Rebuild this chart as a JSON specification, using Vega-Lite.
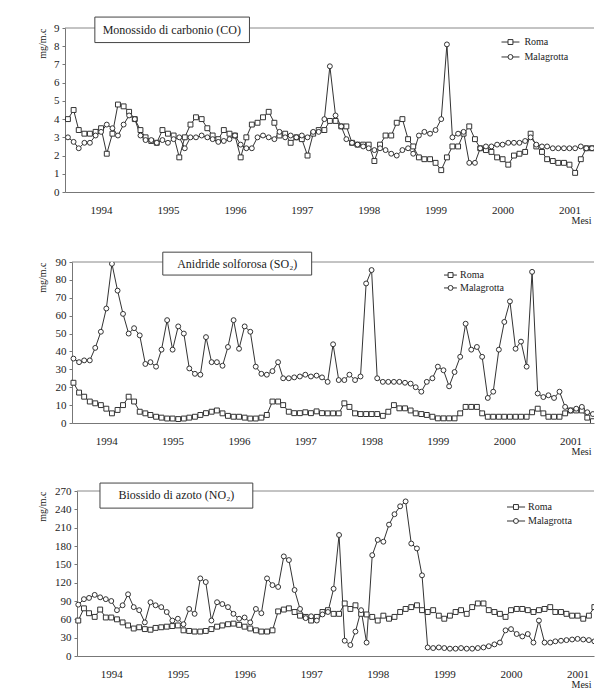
{
  "$schema": "https://vega.github.io/schema/vega-lite/v6.json",
  "background": "white",
  "padding": {"top": 16, "left": 37, "right": 0, "bottom": 0},
  "columns": 1,
  "spacing": 26,
  "config": {
    "font": "Liberation Serif",
    "view": {"stroke": null},
    "axis": {"labelFont": "Liberation Serif", "titleFont": "Liberation Serif", "labelColor": "#222", "titleColor": "#222", "titleFontWeight": "normal", "domainColor": "#777", "tickColor": "#777", "grid": false, "labelOverlap": false}
  },
  "resolve": {"scale": {"x": "independent", "y": "independent", "shape": "independent"}},
  "datasets": {
    "co": [
      {"mese":"1994-01","stazione":"Roma","v":4.0},{"mese":"1994-02","stazione":"Roma","v":4.5},{"mese":"1994-03","stazione":"Roma","v":3.4},{"mese":"1994-04","stazione":"Roma","v":3.2},{"mese":"1994-05","stazione":"Roma","v":3.2},{"mese":"1994-06","stazione":"Roma","v":3.3},{"mese":"1994-07","stazione":"Roma","v":3.5},{"mese":"1994-08","stazione":"Roma","v":2.1},{"mese":"1994-09","stazione":"Roma","v":3.2},{"mese":"1994-10","stazione":"Roma","v":4.8},{"mese":"1994-11","stazione":"Roma","v":4.7},{"mese":"1994-12","stazione":"Roma","v":4.4},
      {"mese":"1995-01","stazione":"Roma","v":4.0},{"mese":"1995-02","stazione":"Roma","v":3.4},{"mese":"1995-03","stazione":"Roma","v":3.0},{"mese":"1995-04","stazione":"Roma","v":2.8},{"mese":"1995-05","stazione":"Roma","v":2.7},{"mese":"1995-06","stazione":"Roma","v":3.4},{"mese":"1995-07","stazione":"Roma","v":3.2},{"mese":"1995-08","stazione":"Roma","v":3.1},{"mese":"1995-09","stazione":"Roma","v":1.9},{"mese":"1995-10","stazione":"Roma","v":3.0},{"mese":"1995-11","stazione":"Roma","v":3.7},{"mese":"1995-12","stazione":"Roma","v":4.1},
      {"mese":"1996-01","stazione":"Roma","v":4.0},{"mese":"1996-02","stazione":"Roma","v":3.5},{"mese":"1996-03","stazione":"Roma","v":3.1},{"mese":"1996-04","stazione":"Roma","v":2.9},{"mese":"1996-05","stazione":"Roma","v":3.4},{"mese":"1996-06","stazione":"Roma","v":3.2},{"mese":"1996-07","stazione":"Roma","v":3.1},{"mese":"1996-08","stazione":"Roma","v":1.9},{"mese":"1996-09","stazione":"Roma","v":3.0},{"mese":"1996-10","stazione":"Roma","v":3.7},{"mese":"1996-11","stazione":"Roma","v":3.8},{"mese":"1996-12","stazione":"Roma","v":4.1},
      {"mese":"1997-01","stazione":"Roma","v":4.4},{"mese":"1997-02","stazione":"Roma","v":3.8},{"mese":"1997-03","stazione":"Roma","v":3.1},{"mese":"1997-04","stazione":"Roma","v":3.2},{"mese":"1997-05","stazione":"Roma","v":2.7},{"mese":"1997-06","stazione":"Roma","v":3.0},{"mese":"1997-07","stazione":"Roma","v":2.9},{"mese":"1997-08","stazione":"Roma","v":2.0},{"mese":"1997-09","stazione":"Roma","v":3.2},{"mese":"1997-10","stazione":"Roma","v":3.4},{"mese":"1997-11","stazione":"Roma","v":3.4},{"mese":"1997-12","stazione":"Roma","v":3.9},
      {"mese":"1998-01","stazione":"Roma","v":3.9},{"mese":"1998-02","stazione":"Roma","v":3.6},{"mese":"1998-03","stazione":"Roma","v":3.6},{"mese":"1998-04","stazione":"Roma","v":2.7},{"mese":"1998-05","stazione":"Roma","v":2.6},{"mese":"1998-06","stazione":"Roma","v":2.6},{"mese":"1998-07","stazione":"Roma","v":2.6},{"mese":"1998-08","stazione":"Roma","v":1.7},{"mese":"1998-09","stazione":"Roma","v":2.6},{"mese":"1998-10","stazione":"Roma","v":3.1},{"mese":"1998-11","stazione":"Roma","v":3.1},{"mese":"1998-12","stazione":"Roma","v":3.8},
      {"mese":"1999-01","stazione":"Roma","v":4.0},{"mese":"1999-02","stazione":"Roma","v":2.9},{"mese":"1999-03","stazione":"Roma","v":2.5},{"mese":"1999-04","stazione":"Roma","v":1.9},{"mese":"1999-05","stazione":"Roma","v":1.8},{"mese":"1999-06","stazione":"Roma","v":1.8},{"mese":"1999-07","stazione":"Roma","v":1.6},{"mese":"1999-08","stazione":"Roma","v":1.2},{"mese":"1999-09","stazione":"Roma","v":1.9},{"mese":"1999-10","stazione":"Roma","v":2.5},{"mese":"1999-11","stazione":"Roma","v":2.5},{"mese":"1999-12","stazione":"Roma","v":3.2},
      {"mese":"2000-01","stazione":"Roma","v":3.6},{"mese":"2000-02","stazione":"Roma","v":2.9},{"mese":"2000-03","stazione":"Roma","v":2.4},{"mese":"2000-04","stazione":"Roma","v":2.3},{"mese":"2000-05","stazione":"Roma","v":2.2},{"mese":"2000-06","stazione":"Roma","v":1.9},{"mese":"2000-07","stazione":"Roma","v":1.8},{"mese":"2000-08","stazione":"Roma","v":1.5},{"mese":"2000-09","stazione":"Roma","v":2.0},{"mese":"2000-10","stazione":"Roma","v":2.1},{"mese":"2000-11","stazione":"Roma","v":2.2},{"mese":"2000-12","stazione":"Roma","v":3.2},
      {"mese":"2001-01","stazione":"Roma","v":2.5},{"mese":"2001-02","stazione":"Roma","v":2.2},{"mese":"2001-03","stazione":"Roma","v":1.8},{"mese":"2001-04","stazione":"Roma","v":1.7},{"mese":"2001-05","stazione":"Roma","v":1.6},{"mese":"2001-06","stazione":"Roma","v":1.6},{"mese":"2001-07","stazione":"Roma","v":1.5},{"mese":"2001-08","stazione":"Roma","v":1.05},{"mese":"2001-09","stazione":"Roma","v":1.8},{"mese":"2001-10","stazione":"Roma","v":2.4},{"mese":"2001-11","stazione":"Roma","v":2.4},{"mese":"2001-12","stazione":"Roma","v":2.4},
      {"mese":"1994-01","stazione":"Malagrotta","v":3.0},{"mese":"1994-02","stazione":"Malagrotta","v":2.75},{"mese":"1994-03","stazione":"Malagrotta","v":2.4},{"mese":"1994-04","stazione":"Malagrotta","v":2.7},{"mese":"1994-05","stazione":"Malagrotta","v":2.7},{"mese":"1994-06","stazione":"Malagrotta","v":3.1},{"mese":"1994-07","stazione":"Malagrotta","v":3.3},{"mese":"1994-08","stazione":"Malagrotta","v":3.7},{"mese":"1994-09","stazione":"Malagrotta","v":3.5},{"mese":"1994-10","stazione":"Malagrotta","v":3.1},{"mese":"1994-11","stazione":"Malagrotta","v":3.7},{"mese":"1994-12","stazione":"Malagrotta","v":4.2},
      {"mese":"1995-01","stazione":"Malagrotta","v":4.0},{"mese":"1995-02","stazione":"Malagrotta","v":3.1},{"mese":"1995-03","stazione":"Malagrotta","v":2.85},{"mese":"1995-04","stazione":"Malagrotta","v":2.85},{"mese":"1995-05","stazione":"Malagrotta","v":2.7},{"mese":"1995-06","stazione":"Malagrotta","v":2.85},{"mese":"1995-07","stazione":"Malagrotta","v":2.7},{"mese":"1995-08","stazione":"Malagrotta","v":2.9},{"mese":"1995-09","stazione":"Malagrotta","v":3.0},{"mese":"1995-10","stazione":"Malagrotta","v":2.4},{"mese":"1995-11","stazione":"Malagrotta","v":3.0},{"mese":"1995-12","stazione":"Malagrotta","v":3.0},
      {"mese":"1996-01","stazione":"Malagrotta","v":3.1},{"mese":"1996-02","stazione":"Malagrotta","v":3.0},{"mese":"1996-03","stazione":"Malagrotta","v":2.9},{"mese":"1996-04","stazione":"Malagrotta","v":2.75},{"mese":"1996-05","stazione":"Malagrotta","v":2.8},{"mese":"1996-06","stazione":"Malagrotta","v":2.9},{"mese":"1996-07","stazione":"Malagrotta","v":3.1},{"mese":"1996-08","stazione":"Malagrotta","v":2.6},{"mese":"1996-09","stazione":"Malagrotta","v":2.4},{"mese":"1996-10","stazione":"Malagrotta","v":2.4},{"mese":"1996-11","stazione":"Malagrotta","v":3.0},{"mese":"1996-12","stazione":"Malagrotta","v":3.1},
      {"mese":"1997-01","stazione":"Malagrotta","v":3.0},{"mese":"1997-02","stazione":"Malagrotta","v":2.9},{"mese":"1997-03","stazione":"Malagrotta","v":3.3},{"mese":"1997-04","stazione":"Malagrotta","v":3.0},{"mese":"1997-05","stazione":"Malagrotta","v":3.1},{"mese":"1997-06","stazione":"Malagrotta","v":3.0},{"mese":"1997-07","stazione":"Malagrotta","v":3.1},{"mese":"1997-08","stazione":"Malagrotta","v":3.0},{"mese":"1997-09","stazione":"Malagrotta","v":3.3},{"mese":"1997-10","stazione":"Malagrotta","v":3.3},{"mese":"1997-11","stazione":"Malagrotta","v":4.0},{"mese":"1997-12","stazione":"Malagrotta","v":6.9},
      {"mese":"1998-01","stazione":"Malagrotta","v":4.2},{"mese":"1998-02","stazione":"Malagrotta","v":3.6},{"mese":"1998-03","stazione":"Malagrotta","v":2.9},{"mese":"1998-04","stazione":"Malagrotta","v":2.7},{"mese":"1998-05","stazione":"Malagrotta","v":2.6},{"mese":"1998-06","stazione":"Malagrotta","v":2.5},{"mese":"1998-07","stazione":"Malagrotta","v":2.4},{"mese":"1998-08","stazione":"Malagrotta","v":2.3},{"mese":"1998-09","stazione":"Malagrotta","v":2.4},{"mese":"1998-10","stazione":"Malagrotta","v":2.3},{"mese":"1998-11","stazione":"Malagrotta","v":2.1},{"mese":"1998-12","stazione":"Malagrotta","v":2.0},
      {"mese":"1999-01","stazione":"Malagrotta","v":2.3},{"mese":"1999-02","stazione":"Malagrotta","v":2.4},{"mese":"1999-03","stazione":"Malagrotta","v":2.1},{"mese":"1999-04","stazione":"Malagrotta","v":3.1},{"mese":"1999-05","stazione":"Malagrotta","v":3.3},{"mese":"1999-06","stazione":"Malagrotta","v":3.2},{"mese":"1999-07","stazione":"Malagrotta","v":3.4},{"mese":"1999-08","stazione":"Malagrotta","v":4.0},{"mese":"1999-09","stazione":"Malagrotta","v":8.1},{"mese":"1999-10","stazione":"Malagrotta","v":3.0},{"mese":"1999-11","stazione":"Malagrotta","v":3.2},{"mese":"1999-12","stazione":"Malagrotta","v":3.3},
      {"mese":"2000-01","stazione":"Malagrotta","v":1.6},{"mese":"2000-02","stazione":"Malagrotta","v":1.6},{"mese":"2000-03","stazione":"Malagrotta","v":2.4},{"mese":"2000-04","stazione":"Malagrotta","v":2.5},{"mese":"2000-05","stazione":"Malagrotta","v":2.5},{"mese":"2000-06","stazione":"Malagrotta","v":2.6},{"mese":"2000-07","stazione":"Malagrotta","v":2.6},{"mese":"2000-08","stazione":"Malagrotta","v":2.7},{"mese":"2000-09","stazione":"Malagrotta","v":2.7},{"mese":"2000-10","stazione":"Malagrotta","v":2.7},{"mese":"2000-11","stazione":"Malagrotta","v":2.8},{"mese":"2000-12","stazione":"Malagrotta","v":3.0},
      {"mese":"2001-01","stazione":"Malagrotta","v":2.6},{"mese":"2001-02","stazione":"Malagrotta","v":2.5},{"mese":"2001-03","stazione":"Malagrotta","v":2.5},{"mese":"2001-04","stazione":"Malagrotta","v":2.4},{"mese":"2001-05","stazione":"Malagrotta","v":2.4},{"mese":"2001-06","stazione":"Malagrotta","v":2.4},{"mese":"2001-07","stazione":"Malagrotta","v":2.4},{"mese":"2001-08","stazione":"Malagrotta","v":2.4},{"mese":"2001-09","stazione":"Malagrotta","v":2.5},{"mese":"2001-10","stazione":"Malagrotta","v":2.4},{"mese":"2001-11","stazione":"Malagrotta","v":2.4},{"mese":"2001-12","stazione":"Malagrotta","v":2.4}
    ],
    "so2": [
      {"mese":"1994-01","stazione":"Roma","v":22.5},{"mese":"1994-02","stazione":"Roma","v":17},{"mese":"1994-03","stazione":"Roma","v":14.7},{"mese":"1994-04","stazione":"Roma","v":12},{"mese":"1994-05","stazione":"Roma","v":11},{"mese":"1994-06","stazione":"Roma","v":10},{"mese":"1994-07","stazione":"Roma","v":8},{"mese":"1994-08","stazione":"Roma","v":5.4},{"mese":"1994-09","stazione":"Roma","v":7.3},{"mese":"1994-10","stazione":"Roma","v":10},{"mese":"1994-11","stazione":"Roma","v":14.7},{"mese":"1994-12","stazione":"Roma","v":12},
      {"mese":"1995-01","stazione":"Roma","v":6.3},{"mese":"1995-02","stazione":"Roma","v":5.4},{"mese":"1995-03","stazione":"Roma","v":4.5},{"mese":"1995-04","stazione":"Roma","v":3.5},{"mese":"1995-05","stazione":"Roma","v":3},{"mese":"1995-06","stazione":"Roma","v":2.5},{"mese":"1995-07","stazione":"Roma","v":2.5},{"mese":"1995-08","stazione":"Roma","v":2.2},{"mese":"1995-09","stazione":"Roma","v":2.5},{"mese":"1995-10","stazione":"Roma","v":3},{"mese":"1995-11","stazione":"Roma","v":3.5},{"mese":"1995-12","stazione":"Roma","v":4.5},
      {"mese":"1996-01","stazione":"Roma","v":5.5},{"mese":"1996-02","stazione":"Roma","v":6.3},{"mese":"1996-03","stazione":"Roma","v":7},{"mese":"1996-04","stazione":"Roma","v":5.4},{"mese":"1996-05","stazione":"Roma","v":4},{"mese":"1996-06","stazione":"Roma","v":3.5},{"mese":"1996-07","stazione":"Roma","v":3.5},{"mese":"1996-08","stazione":"Roma","v":3},{"mese":"1996-09","stazione":"Roma","v":2.5},{"mese":"1996-10","stazione":"Roma","v":2.5},{"mese":"1996-11","stazione":"Roma","v":3},{"mese":"1996-12","stazione":"Roma","v":4.5},
      {"mese":"1997-01","stazione":"Roma","v":12},{"mese":"1997-02","stazione":"Roma","v":12},{"mese":"1997-03","stazione":"Roma","v":10},{"mese":"1997-04","stazione":"Roma","v":6.3},{"mese":"1997-05","stazione":"Roma","v":5.5},{"mese":"1997-06","stazione":"Roma","v":5.5},{"mese":"1997-07","stazione":"Roma","v":6},{"mese":"1997-08","stazione":"Roma","v":5.5},{"mese":"1997-09","stazione":"Roma","v":6.5},{"mese":"1997-10","stazione":"Roma","v":5.5},{"mese":"1997-11","stazione":"Roma","v":5.4},{"mese":"1997-12","stazione":"Roma","v":5.4},
      {"mese":"1998-01","stazione":"Roma","v":5.4},{"mese":"1998-02","stazione":"Roma","v":11},{"mese":"1998-03","stazione":"Roma","v":9},{"mese":"1998-04","stazione":"Roma","v":5.4},{"mese":"1998-05","stazione":"Roma","v":5},{"mese":"1998-06","stazione":"Roma","v":5},{"mese":"1998-07","stazione":"Roma","v":5},{"mese":"1998-08","stazione":"Roma","v":5},{"mese":"1998-09","stazione":"Roma","v":4},{"mese":"1998-10","stazione":"Roma","v":6.3},{"mese":"1998-11","stazione":"Roma","v":10},{"mese":"1998-12","stazione":"Roma","v":8.2},
      {"mese":"1999-01","stazione":"Roma","v":8.2},{"mese":"1999-02","stazione":"Roma","v":7},{"mese":"1999-03","stazione":"Roma","v":5.4},{"mese":"1999-04","stazione":"Roma","v":5},{"mese":"1999-05","stazione":"Roma","v":4.5},{"mese":"1999-06","stazione":"Roma","v":3.5},{"mese":"1999-07","stazione":"Roma","v":2.6},{"mese":"1999-08","stazione":"Roma","v":2.6},{"mese":"1999-09","stazione":"Roma","v":2.6},{"mese":"1999-10","stazione":"Roma","v":2.6},{"mese":"1999-11","stazione":"Roma","v":5.4},{"mese":"1999-12","stazione":"Roma","v":9},
      {"mese":"2000-01","stazione":"Roma","v":9},{"mese":"2000-02","stazione":"Roma","v":9},{"mese":"2000-03","stazione":"Roma","v":5.4},{"mese":"2000-04","stazione":"Roma","v":3.5},{"mese":"2000-05","stazione":"Roma","v":3.5},{"mese":"2000-06","stazione":"Roma","v":3.5},{"mese":"2000-07","stazione":"Roma","v":3.5},{"mese":"2000-08","stazione":"Roma","v":3.5},{"mese":"2000-09","stazione":"Roma","v":3.5},{"mese":"2000-10","stazione":"Roma","v":3.5},{"mese":"2000-11","stazione":"Roma","v":3.5},{"mese":"2000-12","stazione":"Roma","v":6},
      {"mese":"2001-01","stazione":"Roma","v":8},{"mese":"2001-02","stazione":"Roma","v":5.4},{"mese":"2001-03","stazione":"Roma","v":3.5},{"mese":"2001-04","stazione":"Roma","v":3.5},{"mese":"2001-05","stazione":"Roma","v":3.5},{"mese":"2001-06","stazione":"Roma","v":5.4},{"mese":"2001-07","stazione":"Roma","v":7},{"mese":"2001-08","stazione":"Roma","v":7},{"mese":"2001-09","stazione":"Roma","v":7},{"mese":"2001-10","stazione":"Roma","v":3},{"mese":"2001-11","stazione":"Roma","v":1},{"mese":"2001-12","stazione":"Roma","v":4},
      {"mese":"1994-01","stazione":"Malagrotta","v":36},{"mese":"1994-02","stazione":"Malagrotta","v":34},{"mese":"1994-03","stazione":"Malagrotta","v":35},{"mese":"1994-04","stazione":"Malagrotta","v":35},{"mese":"1994-05","stazione":"Malagrotta","v":42},{"mese":"1994-06","stazione":"Malagrotta","v":51},{"mese":"1994-07","stazione":"Malagrotta","v":64},{"mese":"1994-08","stazione":"Malagrotta","v":89},{"mese":"1994-09","stazione":"Malagrotta","v":74},{"mese":"1994-10","stazione":"Malagrotta","v":61},{"mese":"1994-11","stazione":"Malagrotta","v":50},{"mese":"1994-12","stazione":"Malagrotta","v":53},
      {"mese":"1995-01","stazione":"Malagrotta","v":49},{"mese":"1995-02","stazione":"Malagrotta","v":33},{"mese":"1995-03","stazione":"Malagrotta","v":34},{"mese":"1995-04","stazione":"Malagrotta","v":31.5},{"mese":"1995-05","stazione":"Malagrotta","v":41},{"mese":"1995-06","stazione":"Malagrotta","v":57.5},{"mese":"1995-07","stazione":"Malagrotta","v":41},{"mese":"1995-08","stazione":"Malagrotta","v":54},{"mese":"1995-09","stazione":"Malagrotta","v":50},{"mese":"1995-10","stazione":"Malagrotta","v":30.5},{"mese":"1995-11","stazione":"Malagrotta","v":27.5},{"mese":"1995-12","stazione":"Malagrotta","v":27},
      {"mese":"1996-01","stazione":"Malagrotta","v":48},{"mese":"1996-02","stazione":"Malagrotta","v":34},{"mese":"1996-03","stazione":"Malagrotta","v":34},{"mese":"1996-04","stazione":"Malagrotta","v":32},{"mese":"1996-05","stazione":"Malagrotta","v":42.5},{"mese":"1996-06","stazione":"Malagrotta","v":57.5},{"mese":"1996-07","stazione":"Malagrotta","v":41.5},{"mese":"1996-08","stazione":"Malagrotta","v":54},{"mese":"1996-09","stazione":"Malagrotta","v":51},{"mese":"1996-10","stazione":"Malagrotta","v":31.5},{"mese":"1996-11","stazione":"Malagrotta","v":27.5},{"mese":"1996-12","stazione":"Malagrotta","v":27},
      {"mese":"1997-01","stazione":"Malagrotta","v":29},{"mese":"1997-02","stazione":"Malagrotta","v":34},{"mese":"1997-03","stazione":"Malagrotta","v":25},{"mese":"1997-04","stazione":"Malagrotta","v":25},{"mese":"1997-05","stazione":"Malagrotta","v":25.5},{"mese":"1997-06","stazione":"Malagrotta","v":26},{"mese":"1997-07","stazione":"Malagrotta","v":27},{"mese":"1997-08","stazione":"Malagrotta","v":26},{"mese":"1997-09","stazione":"Malagrotta","v":26.5},{"mese":"1997-10","stazione":"Malagrotta","v":25.5},{"mese":"1997-11","stazione":"Malagrotta","v":23},{"mese":"1997-12","stazione":"Malagrotta","v":44},
      {"mese":"1998-01","stazione":"Malagrotta","v":24},{"mese":"1998-02","stazione":"Malagrotta","v":24},{"mese":"1998-03","stazione":"Malagrotta","v":27},{"mese":"1998-04","stazione":"Malagrotta","v":24},{"mese":"1998-05","stazione":"Malagrotta","v":26},{"mese":"1998-06","stazione":"Malagrotta","v":78},{"mese":"1998-07","stazione":"Malagrotta","v":85.5},{"mese":"1998-08","stazione":"Malagrotta","v":25},{"mese":"1998-09","stazione":"Malagrotta","v":23},{"mese":"1998-10","stazione":"Malagrotta","v":23},{"mese":"1998-11","stazione":"Malagrotta","v":23},{"mese":"1998-12","stazione":"Malagrotta","v":23},
      {"mese":"1999-01","stazione":"Malagrotta","v":22.5},{"mese":"1999-02","stazione":"Malagrotta","v":22},{"mese":"1999-03","stazione":"Malagrotta","v":20},{"mese":"1999-04","stazione":"Malagrotta","v":17.5},{"mese":"1999-05","stazione":"Malagrotta","v":23},{"mese":"1999-06","stazione":"Malagrotta","v":25},{"mese":"1999-07","stazione":"Malagrotta","v":31.5},{"mese":"1999-08","stazione":"Malagrotta","v":29.5},{"mese":"1999-09","stazione":"Malagrotta","v":20.5},{"mese":"1999-10","stazione":"Malagrotta","v":28.5},{"mese":"1999-11","stazione":"Malagrotta","v":37},{"mese":"1999-12","stazione":"Malagrotta","v":55.5},
      {"mese":"2000-01","stazione":"Malagrotta","v":41},{"mese":"2000-02","stazione":"Malagrotta","v":42.5},{"mese":"2000-03","stazione":"Malagrotta","v":37},{"mese":"2000-04","stazione":"Malagrotta","v":14},{"mese":"2000-05","stazione":"Malagrotta","v":17.5},{"mese":"2000-06","stazione":"Malagrotta","v":41},{"mese":"2000-07","stazione":"Malagrotta","v":56.5},{"mese":"2000-08","stazione":"Malagrotta","v":68},{"mese":"2000-09","stazione":"Malagrotta","v":41.5},{"mese":"2000-10","stazione":"Malagrotta","v":45.5},{"mese":"2000-11","stazione":"Malagrotta","v":31.5},{"mese":"2000-12","stazione":"Malagrotta","v":84.5},
      {"mese":"2001-01","stazione":"Malagrotta","v":16.5},{"mese":"2001-02","stazione":"Malagrotta","v":14.5},{"mese":"2001-03","stazione":"Malagrotta","v":15.5},{"mese":"2001-04","stazione":"Malagrotta","v":14},{"mese":"2001-05","stazione":"Malagrotta","v":17.5},{"mese":"2001-06","stazione":"Malagrotta","v":9},{"mese":"2001-07","stazione":"Malagrotta","v":7},{"mese":"2001-08","stazione":"Malagrotta","v":8},{"mese":"2001-09","stazione":"Malagrotta","v":9},{"mese":"2001-10","stazione":"Malagrotta","v":6},{"mese":"2001-11","stazione":"Malagrotta","v":5},{"mese":"2001-12","stazione":"Malagrotta","v":7}
    ],
    "no2": [
      {"mese":"1994-01","stazione":"Roma","v":58},{"mese":"1994-02","stazione":"Roma","v":78},{"mese":"1994-03","stazione":"Roma","v":70},{"mese":"1994-04","stazione":"Roma","v":64},{"mese":"1994-05","stazione":"Roma","v":76},{"mese":"1994-06","stazione":"Roma","v":63},{"mese":"1994-07","stazione":"Roma","v":63},{"mese":"1994-08","stazione":"Roma","v":60},{"mese":"1994-09","stazione":"Roma","v":55},{"mese":"1994-10","stazione":"Roma","v":50},{"mese":"1994-11","stazione":"Roma","v":45},{"mese":"1994-12","stazione":"Roma","v":47},
      {"mese":"1995-01","stazione":"Roma","v":44},{"mese":"1995-02","stazione":"Roma","v":43},{"mese":"1995-03","stazione":"Roma","v":46},{"mese":"1995-04","stazione":"Roma","v":47},{"mese":"1995-05","stazione":"Roma","v":48},{"mese":"1995-06","stazione":"Roma","v":49},{"mese":"1995-07","stazione":"Roma","v":50},{"mese":"1995-08","stazione":"Roma","v":42},{"mese":"1995-09","stazione":"Roma","v":41},{"mese":"1995-10","stazione":"Roma","v":40},{"mese":"1995-11","stazione":"Roma","v":40},{"mese":"1995-12","stazione":"Roma","v":41},
      {"mese":"1996-01","stazione":"Roma","v":44},{"mese":"1996-02","stazione":"Roma","v":48},{"mese":"1996-03","stazione":"Roma","v":50},{"mese":"1996-04","stazione":"Roma","v":52},{"mese":"1996-05","stazione":"Roma","v":53},{"mese":"1996-06","stazione":"Roma","v":51},{"mese":"1996-07","stazione":"Roma","v":48},{"mese":"1996-08","stazione":"Roma","v":45},{"mese":"1996-09","stazione":"Roma","v":42},{"mese":"1996-10","stazione":"Roma","v":40},{"mese":"1996-11","stazione":"Roma","v":40},{"mese":"1996-12","stazione":"Roma","v":42},
      {"mese":"1997-01","stazione":"Roma","v":73},{"mese":"1997-02","stazione":"Roma","v":76},{"mese":"1997-03","stazione":"Roma","v":78},{"mese":"1997-04","stazione":"Roma","v":72},{"mese":"1997-05","stazione":"Roma","v":66},{"mese":"1997-06","stazione":"Roma","v":64},{"mese":"1997-07","stazione":"Roma","v":58},{"mese":"1997-08","stazione":"Roma","v":64},{"mese":"1997-09","stazione":"Roma","v":72},{"mese":"1997-10","stazione":"Roma","v":75},{"mese":"1997-11","stazione":"Roma","v":69},{"mese":"1997-12","stazione":"Roma","v":69},
      {"mese":"1998-01","stazione":"Roma","v":86},{"mese":"1998-02","stazione":"Roma","v":77},{"mese":"1998-03","stazione":"Roma","v":83},{"mese":"1998-04","stazione":"Roma","v":69},{"mese":"1998-05","stazione":"Roma","v":68},{"mese":"1998-06","stazione":"Roma","v":64},{"mese":"1998-07","stazione":"Roma","v":58},{"mese":"1998-08","stazione":"Roma","v":66},{"mese":"1998-09","stazione":"Roma","v":61},{"mese":"1998-10","stazione":"Roma","v":64},{"mese":"1998-11","stazione":"Roma","v":72},{"mese":"1998-12","stazione":"Roma","v":77},
      {"mese":"1999-01","stazione":"Roma","v":80},{"mese":"1999-02","stazione":"Roma","v":83},{"mese":"1999-03","stazione":"Roma","v":75},{"mese":"1999-04","stazione":"Roma","v":72},{"mese":"1999-05","stazione":"Roma","v":75},{"mese":"1999-06","stazione":"Roma","v":66},{"mese":"1999-07","stazione":"Roma","v":61},{"mese":"1999-08","stazione":"Roma","v":66},{"mese":"1999-09","stazione":"Roma","v":72},{"mese":"1999-10","stazione":"Roma","v":75},{"mese":"1999-11","stazione":"Roma","v":69},{"mese":"1999-12","stazione":"Roma","v":80},
      {"mese":"2000-01","stazione":"Roma","v":86},{"mese":"2000-02","stazione":"Roma","v":86},{"mese":"2000-03","stazione":"Roma","v":75},{"mese":"2000-04","stazione":"Roma","v":72},{"mese":"2000-05","stazione":"Roma","v":69},{"mese":"2000-06","stazione":"Roma","v":64},{"mese":"2000-07","stazione":"Roma","v":75},{"mese":"2000-08","stazione":"Roma","v":77},{"mese":"2000-09","stazione":"Roma","v":77},{"mese":"2000-10","stazione":"Roma","v":75},{"mese":"2000-11","stazione":"Roma","v":72},{"mese":"2000-12","stazione":"Roma","v":75},
      {"mese":"2001-01","stazione":"Roma","v":77},{"mese":"2001-02","stazione":"Roma","v":80},{"mese":"2001-03","stazione":"Roma","v":72},{"mese":"2001-04","stazione":"Roma","v":72},{"mese":"2001-05","stazione":"Roma","v":69},{"mese":"2001-06","stazione":"Roma","v":66},{"mese":"2001-07","stazione":"Roma","v":66},{"mese":"2001-08","stazione":"Roma","v":61},{"mese":"2001-09","stazione":"Roma","v":66},{"mese":"2001-10","stazione":"Roma","v":80},{"mese":"2001-11","stazione":"Roma","v":77},{"mese":"2001-12","stazione":"Roma","v":72},
      {"mese":"1994-01","stazione":"Malagrotta","v":84},{"mese":"1994-02","stazione":"Malagrotta","v":93},{"mese":"1994-03","stazione":"Malagrotta","v":95},{"mese":"1994-04","stazione":"Malagrotta","v":100},{"mese":"1994-05","stazione":"Malagrotta","v":96},{"mese":"1994-06","stazione":"Malagrotta","v":93},{"mese":"1994-07","stazione":"Malagrotta","v":90},{"mese":"1994-08","stazione":"Malagrotta","v":75},{"mese":"1994-09","stazione":"Malagrotta","v":83},{"mese":"1994-10","stazione":"Malagrotta","v":101},{"mese":"1994-11","stazione":"Malagrotta","v":80},{"mese":"1994-12","stazione":"Malagrotta","v":75},
      {"mese":"1995-01","stazione":"Malagrotta","v":55},{"mese":"1995-02","stazione":"Malagrotta","v":88},{"mese":"1995-03","stazione":"Malagrotta","v":83},{"mese":"1995-04","stazione":"Malagrotta","v":80},{"mese":"1995-05","stazione":"Malagrotta","v":72},{"mese":"1995-06","stazione":"Malagrotta","v":58},{"mese":"1995-07","stazione":"Malagrotta","v":61},{"mese":"1995-08","stazione":"Malagrotta","v":52},{"mese":"1995-09","stazione":"Malagrotta","v":77},{"mese":"1995-10","stazione":"Malagrotta","v":69},{"mese":"1995-11","stazione":"Malagrotta","v":127},{"mese":"1995-12","stazione":"Malagrotta","v":121},
      {"mese":"1996-01","stazione":"Malagrotta","v":58},{"mese":"1996-02","stazione":"Malagrotta","v":88},{"mese":"1996-03","stazione":"Malagrotta","v":85},{"mese":"1996-04","stazione":"Malagrotta","v":80},{"mese":"1996-05","stazione":"Malagrotta","v":69},{"mese":"1996-06","stazione":"Malagrotta","v":61},{"mese":"1996-07","stazione":"Malagrotta","v":63},{"mese":"1996-08","stazione":"Malagrotta","v":55},{"mese":"1996-09","stazione":"Malagrotta","v":77},{"mese":"1996-10","stazione":"Malagrotta","v":70},{"mese":"1996-11","stazione":"Malagrotta","v":127},{"mese":"1996-12","stazione":"Malagrotta","v":116},
      {"mese":"1997-01","stazione":"Malagrotta","v":113},{"mese":"1997-02","stazione":"Malagrotta","v":163},{"mese":"1997-03","stazione":"Malagrotta","v":157},{"mese":"1997-04","stazione":"Malagrotta","v":108},{"mese":"1997-05","stazione":"Malagrotta","v":77},{"mese":"1997-06","stazione":"Malagrotta","v":62},{"mese":"1997-07","stazione":"Malagrotta","v":65},{"mese":"1997-08","stazione":"Malagrotta","v":58},{"mese":"1997-09","stazione":"Malagrotta","v":68},{"mese":"1997-10","stazione":"Malagrotta","v":72},{"mese":"1997-11","stazione":"Malagrotta","v":110},{"mese":"1997-12","stazione":"Malagrotta","v":198},
      {"mese":"1998-01","stazione":"Malagrotta","v":25},{"mese":"1998-02","stazione":"Malagrotta","v":18},{"mese":"1998-03","stazione":"Malagrotta","v":40},{"mese":"1998-04","stazione":"Malagrotta","v":75},{"mese":"1998-05","stazione":"Malagrotta","v":22},{"mese":"1998-06","stazione":"Malagrotta","v":165},{"mese":"1998-07","stazione":"Malagrotta","v":190},{"mese":"1998-08","stazione":"Malagrotta","v":187},{"mese":"1998-09","stazione":"Malagrotta","v":215},{"mese":"1998-10","stazione":"Malagrotta","v":232},{"mese":"1998-11","stazione":"Malagrotta","v":245},{"mese":"1998-12","stazione":"Malagrotta","v":253},
      {"mese":"1999-01","stazione":"Malagrotta","v":184},{"mese":"1999-02","stazione":"Malagrotta","v":176},{"mese":"1999-03","stazione":"Malagrotta","v":132},{"mese":"1999-04","stazione":"Malagrotta","v":14},{"mese":"1999-05","stazione":"Malagrotta","v":13},{"mese":"1999-06","stazione":"Malagrotta","v":14},{"mese":"1999-07","stazione":"Malagrotta","v":13},{"mese":"1999-08","stazione":"Malagrotta","v":12},{"mese":"1999-09","stazione":"Malagrotta","v":12},{"mese":"1999-10","stazione":"Malagrotta","v":13},{"mese":"1999-11","stazione":"Malagrotta","v":12},{"mese":"1999-12","stazione":"Malagrotta","v":12},
      {"mese":"2000-01","stazione":"Malagrotta","v":13},{"mese":"2000-02","stazione":"Malagrotta","v":14},{"mese":"2000-03","stazione":"Malagrotta","v":16},{"mese":"2000-04","stazione":"Malagrotta","v":19},{"mese":"2000-05","stazione":"Malagrotta","v":22},{"mese":"2000-06","stazione":"Malagrotta","v":42},{"mese":"2000-07","stazione":"Malagrotta","v":44},{"mese":"2000-08","stazione":"Malagrotta","v":36},{"mese":"2000-09","stazione":"Malagrotta","v":32},{"mese":"2000-10","stazione":"Malagrotta","v":36},{"mese":"2000-11","stazione":"Malagrotta","v":22},{"mese":"2000-12","stazione":"Malagrotta","v":58},
      {"mese":"2001-01","stazione":"Malagrotta","v":22},{"mese":"2001-02","stazione":"Malagrotta","v":22},{"mese":"2001-03","stazione":"Malagrotta","v":24},{"mese":"2001-04","stazione":"Malagrotta","v":25},{"mese":"2001-05","stazione":"Malagrotta","v":26},{"mese":"2001-06","stazione":"Malagrotta","v":27},{"mese":"2001-07","stazione":"Malagrotta","v":28},{"mese":"2001-08","stazione":"Malagrotta","v":27},{"mese":"2001-09","stazione":"Malagrotta","v":26},{"mese":"2001-10","stazione":"Malagrotta","v":24},{"mese":"2001-11","stazione":"Malagrotta","v":22},{"mese":"2001-12","stazione":"Malagrotta","v":22}
    ]
  },
  "concat": [
    {
      "width": 529,
      "height": 164,
      "data": {"name": "co"},
      "layer": [
        {
          "mark": {"type": "line", "color": "#333", "strokeWidth": 1, "clip": true},
          "encoding": {
            "x": {"field": "mese", "type": "temporal",
              "scale": {"domain": [{"year": 1993, "month": 12, "date": 16}, {"year": 2001, "month": 11, "date": 12}]},
              "axis": {"title": "Mesi", "titleAnchor": "end", "titleAlign": "right", "titleX": 526, "titleFontSize": 10, "titlePadding": 0,
                "values": [{"year": 1994, "month": 7, "date": 1}, {"year": 1995, "month": 7, "date": 1}, {"year": 1996, "month": 7, "date": 1}, {"year": 1997, "month": 7, "date": 1}, {"year": 1998, "month": 7, "date": 1}, {"year": 1999, "month": 7, "date": 1}, {"year": 2000, "month": 7, "date": 1}, {"year": 2001, "month": 7, "date": 1}],
                "tickCount": 12, "format": "%Y", "labelFontSize": 11, "labelPadding": 12, "ticks": false}},
            "y": {"field": "v", "type": "quantitative",
              "scale": {"domain": [0, 9], "nice": false},
              "axis": {"title": "mg/m.c", "titleAnchor": "end", "titleFontSize": 10, "titlePadding": 2, "labelOverlap": false, "labelBound": false,
                "values": [0, 1, 2, 3, 4, 5, 6, 7, 8, 9], "tickCount": 12, "labelFontSize": 11, "labelPadding": 3, "tickSize": 3, "minExtent": 16}},
            "detail": {"field": "stazione"}
          }
        },
        {"mark": {"type": "rule", "color": "#888", "strokeWidth": 1}, "data": {"values": [{}]}, "encoding": {"y": {"datum": 9}}},
        {
          "mark": {"type": "point", "filled": true, "fill": "white", "stroke": "#333", "strokeWidth": 1, "size": 24, "opacity": 1, "clip": true},
          "encoding": {
            "x": {"field": "mese", "type": "temporal"},
            "y": {"field": "v", "type": "quantitative"},
            "shape": {"field": "stazione", "type": "nominal", "scale": {"domain": ["Roma", "Malagrotta"], "range": ["square", "circle"]}, "legend": null}
          }
        },
        {
          "data": {"values": [{}]},
          "mark": {"type": "rect", "fill": "white", "stroke": "#444", "strokeWidth": 1, "clip": false},
          "encoding": {
            "x": {"datum": {"year": 1994, "month": 5, "date": 28}},
            "x2": {"datum": {"year": 1996, "month": 9, "date": 18}},
            "y": {"datum": 9.6},
            "y2": {"datum": 8.2}
          }
        },
        {
          "data": {"values": [{}]},
          "mark": {"type": "text", "text": "Monossido di carbonio (CO)", "fontSize": 12, "fill": "#222", "align": "center", "baseline": "middle", "clip": false},
          "encoding": {"x": {"datum": {"year": 1995, "month": 7, "date": 22}}, "y": {"datum": 8.9}}
        },
        {
          "data": {"values": [{}]},
          "mark": {"type": "rule", "color": "#333", "strokeWidth": 1},
          "encoding": {"x": {"datum": {"year": 2000, "month": 6, "date": 25}}, "x2": {"datum": {"year": 2000, "month": 10, "date": 1}}, "y": {"datum": 8.23}}
        },
        {
          "data": {"values": [{}]},
          "mark": {"type": "rule", "color": "#333", "strokeWidth": 1},
          "encoding": {"x": {"datum": {"year": 2000, "month": 6, "date": 25}}, "x2": {"datum": {"year": 2000, "month": 10, "date": 1}}, "y": {"datum": 7.41}}
        },
        {
          "data": {"values": [{}]},
          "mark": {"type": "point", "shape": "square", "filled": true, "fill": "white", "stroke": "#333", "strokeWidth": 1, "size": 24, "opacity": 1},
          "encoding": {"x": {"datum": {"year": 2000, "month": 8, "date": 13}}, "y": {"datum": 8.23}}
        },
        {
          "data": {"values": [{}]},
          "mark": {"type": "point", "shape": "circle", "filled": true, "fill": "white", "stroke": "#333", "strokeWidth": 1, "size": 24, "opacity": 1},
          "encoding": {"x": {"datum": {"year": 2000, "month": 8, "date": 13}}, "y": {"datum": 7.41}}
        },
        {
          "data": {"values": [{}]},
          "mark": {"type": "text", "text": "Roma", "fontSize": 10, "fill": "#222", "align": "left", "baseline": "middle"},
          "encoding": {"x": {"datum": {"year": 2000, "month": 10, "date": 28}}, "y": {"datum": 8.23}}
        },
        {
          "data": {"values": [{}]},
          "mark": {"type": "text", "text": "Malagrotta", "fontSize": 10, "fill": "#222", "align": "left", "baseline": "middle"},
          "encoding": {"x": {"datum": {"year": 2000, "month": 10, "date": 28}}, "y": {"datum": 7.41}}
        }
      ]
    },
    {
      "width": 529,
      "height": 161,
      "data": {"name": "so2"},
      "layer": [
        {
          "mark": {"type": "line", "color": "#333", "strokeWidth": 1, "clip": true},
          "encoding": {
            "x": {"field": "mese", "type": "temporal",
              "scale": {"domain": [{"year": 1993, "month": 12, "date": 24}, {"year": 2001, "month": 11, "date": 7}], "range": [7, 529]},
              "axis": {"title": "Mesi", "titleAnchor": "end", "titleAlign": "right", "titleX": 526, "titleFontSize": 10, "titlePadding": 0,
                "values": [{"year": 1994, "month": 7, "date": 1}, {"year": 1995, "month": 7, "date": 1}, {"year": 1996, "month": 7, "date": 1}, {"year": 1997, "month": 7, "date": 1}, {"year": 1998, "month": 7, "date": 1}, {"year": 1999, "month": 7, "date": 1}, {"year": 2000, "month": 7, "date": 1}, {"year": 2001, "month": 7, "date": 1}],
                "tickCount": 12, "format": "%Y", "labelFontSize": 11, "labelPadding": 12, "ticks": false}},
            "y": {"field": "v", "type": "quantitative",
              "scale": {"domain": [0, 90], "nice": false},
              "axis": {"title": "mg/m.c", "titleAnchor": "end", "titleFontSize": 10, "titlePadding": 2, "labelOverlap": false, "labelBound": false, "offset": -7,
                "values": [0, 10, 20, 30, 40, 50, 60, 70, 80, 90], "tickCount": 12, "labelFontSize": 11, "labelPadding": 3, "tickSize": 3, "minExtent": 23}},
            "detail": {"field": "stazione"}
          }
        },
        {"mark": {"type": "rule", "color": "#888", "strokeWidth": 1}, "data": {"values": [{}]},
          "encoding": {"x": {"datum": {"year": 1993, "month": 12, "date": 24}}, "x2": {"datum": {"year": 2001, "month": 11, "date": 7}}, "y": {"datum": 90}}},
        {
          "mark": {"type": "point", "filled": true, "fill": "white", "stroke": "#333", "strokeWidth": 1, "size": 24, "opacity": 1, "clip": true},
          "encoding": {
            "x": {"field": "mese", "type": "temporal"},
            "y": {"field": "v", "type": "quantitative"},
            "shape": {"field": "stazione", "type": "nominal", "scale": {"domain": ["Roma", "Malagrotta"], "range": ["square", "circle"]}, "legend": null}
          }
        },
        {
          "data": {"values": [{}]},
          "mark": {"type": "rect", "fill": "white", "stroke": "#444", "strokeWidth": 1, "clip": false},
          "encoding": {
            "x": {"datum": {"year": 1995, "month": 5, "date": 8}},
            "x2": {"datum": {"year": 1997, "month": 8, "date": 5}},
            "y": {"datum": 95.5},
            "y2": {"datum": 82.7}
          }
        },
        {
          "data": {"values": [{}]},
          "mark": {"type": "text", "text": "Anidride solforosa (SO₂)", "fontSize": 12, "fill": "#222", "align": "center", "baseline": "middle", "clip": false},
          "encoding": {"x": {"datum": {"year": 1996, "month": 6, "date": 21}}, "y": {"datum": 89.1}}
        },
        {
          "data": {"values": [{}]},
          "mark": {"type": "rule", "color": "#333", "strokeWidth": 1},
          "encoding": {"x": {"datum": {"year": 1999, "month": 8, "date": 4}}, "x2": {"datum": {"year": 1999, "month": 10, "date": 14}}, "y": {"datum": 82.7}}
        },
        {
          "data": {"values": [{}]},
          "mark": {"type": "rule", "color": "#333", "strokeWidth": 1},
          "encoding": {"x": {"datum": {"year": 1999, "month": 8, "date": 4}}, "x2": {"datum": {"year": 1999, "month": 10, "date": 14}}, "y": {"datum": 75.5}}
        },
        {
          "data": {"values": [{}]},
          "mark": {"type": "point", "shape": "square", "filled": true, "fill": "white", "stroke": "#333", "strokeWidth": 1, "size": 24, "opacity": 1},
          "encoding": {"x": {"datum": {"year": 1999, "month": 9, "date": 9}}, "y": {"datum": 82.7}}
        },
        {
          "data": {"values": [{}]},
          "mark": {"type": "point", "shape": "circle", "filled": true, "fill": "white", "stroke": "#333", "strokeWidth": 1, "size": 24, "opacity": 1},
          "encoding": {"x": {"datum": {"year": 1999, "month": 9, "date": 9}}, "y": {"datum": 75.5}}
        },
        {
          "data": {"values": [{}]},
          "mark": {"type": "text", "text": "Roma", "fontSize": 10, "fill": "#222", "align": "left", "baseline": "middle"},
          "encoding": {"x": {"datum": {"year": 1999, "month": 10, "date": 31}}, "y": {"datum": 82.7}}
        },
        {
          "data": {"values": [{}]},
          "mark": {"type": "text", "text": "Malagrotta", "fontSize": 10, "fill": "#222", "align": "left", "baseline": "middle"},
          "encoding": {"x": {"datum": {"year": 1999, "month": 10, "date": 31}}, "y": {"datum": 75.5}}
        }
      ]
    },
    {
      "width": 529,
      "height": 165,
      "data": {"name": "no2"},
      "layer": [
        {
          "mark": {"type": "line", "color": "#333", "strokeWidth": 1, "clip": true},
          "encoding": {
            "x": {"field": "mese", "type": "temporal",
              "scale": {"domain": [{"year": 1993, "month": 12, "date": 25}, {"year": 2001, "month": 9, "date": 29}], "range": [12, 529]},
              "axis": {"title": "Mesi", "titleAnchor": "end", "titleAlign": "right", "titleX": 526, "titleFontSize": 10, "titlePadding": 0,
                "values": [{"year": 1994, "month": 7, "date": 1}, {"year": 1995, "month": 7, "date": 1}, {"year": 1996, "month": 7, "date": 1}, {"year": 1997, "month": 7, "date": 1}, {"year": 1998, "month": 7, "date": 1}, {"year": 1999, "month": 7, "date": 1}, {"year": 2000, "month": 7, "date": 1}, {"year": 2001, "month": 7, "date": 1}],
                "tickCount": 12, "format": "%Y", "labelFontSize": 11, "labelPadding": 12, "ticks": false}},
            "y": {"field": "v", "type": "quantitative",
              "scale": {"domain": [0, 270], "nice": false},
              "axis": {"title": "mg/m.c", "titleAnchor": "end", "titleFontSize": 10, "titlePadding": 2, "labelOverlap": false, "labelBound": false, "offset": -12,
                "values": [0, 30, 60, 90, 120, 150, 180, 210, 240, 270], "tickCount": 12, "labelFontSize": 11, "labelPadding": 3, "tickSize": 3, "minExtent": 28}},
            "detail": {"field": "stazione"}
          }
        },
        {"mark": {"type": "rule", "color": "#888", "strokeWidth": 1}, "data": {"values": [{}]},
          "encoding": {"x": {"datum": {"year": 1993, "month": 12, "date": 25}}, "x2": {"datum": {"year": 2001, "month": 9, "date": 29}}, "y": {"datum": 270}}},
        {
          "mark": {"type": "point", "filled": true, "fill": "white", "stroke": "#333", "strokeWidth": 1, "size": 24, "opacity": 1, "clip": true},
          "encoding": {
            "x": {"field": "mese", "type": "temporal"},
            "y": {"field": "v", "type": "quantitative"},
            "shape": {"field": "stazione", "type": "nominal", "scale": {"domain": ["Roma", "Malagrotta"], "range": ["square", "circle"]}, "legend": null}
          }
        },
        {
          "data": {"values": [{}]},
          "mark": {"type": "rect", "fill": "white", "stroke": "#444", "strokeWidth": 1, "clip": false},
          "encoding": {
            "x": {"datum": {"year": 1994, "month": 4, "date": 30}},
            "x2": {"datum": {"year": 1996, "month": 8, "date": 15}},
            "y": {"datum": 283},
            "y2": {"datum": 242}
          }
        },
        {
          "data": {"values": [{}]},
          "mark": {"type": "text", "text": "Biossido di azoto (NO₂)", "fontSize": 12, "fill": "#222", "align": "center", "baseline": "middle", "clip": false},
          "encoding": {"x": {"datum": {"year": 1995, "month": 6, "date": 23}}, "y": {"datum": 263}}
        },
        {
          "data": {"values": [{}]},
          "mark": {"type": "rule", "color": "#333", "strokeWidth": 1},
          "encoding": {"x": {"datum": {"year": 2000, "month": 6, "date": 9}}, "x2": {"datum": {"year": 2000, "month": 9, "date": 16}}, "y": {"datum": 243.8}}
        },
        {
          "data": {"values": [{}]},
          "mark": {"type": "rule", "color": "#333", "strokeWidth": 1},
          "encoding": {"x": {"datum": {"year": 2000, "month": 6, "date": 9}}, "x2": {"datum": {"year": 2000, "month": 9, "date": 16}}, "y": {"datum": 220.9}}
        },
        {
          "data": {"values": [{}]},
          "mark": {"type": "point", "shape": "square", "filled": true, "fill": "white", "stroke": "#333", "strokeWidth": 1, "size": 24, "opacity": 1},
          "encoding": {"x": {"datum": {"year": 2000, "month": 7, "date": 28}}, "y": {"datum": 243.8}}
        },
        {
          "data": {"values": [{}]},
          "mark": {"type": "point", "shape": "circle", "filled": true, "fill": "white", "stroke": "#333", "strokeWidth": 1, "size": 24, "opacity": 1},
          "encoding": {"x": {"datum": {"year": 2000, "month": 7, "date": 28}}, "y": {"datum": 220.9}}
        },
        {
          "data": {"values": [{}]},
          "mark": {"type": "text", "text": "Roma", "fontSize": 10, "fill": "#222", "align": "left", "baseline": "middle"},
          "encoding": {"x": {"datum": {"year": 2000, "month": 10, "date": 2}}, "y": {"datum": 243.8}}
        },
        {
          "data": {"values": [{}]},
          "mark": {"type": "text", "text": "Malagrotta", "fontSize": 10, "fill": "#222", "align": "left", "baseline": "middle"},
          "encoding": {"x": {"datum": {"year": 2000, "month": 10, "date": 2}}, "y": {"datum": 220.9}}
        }
      ]
    }
  ]
}
